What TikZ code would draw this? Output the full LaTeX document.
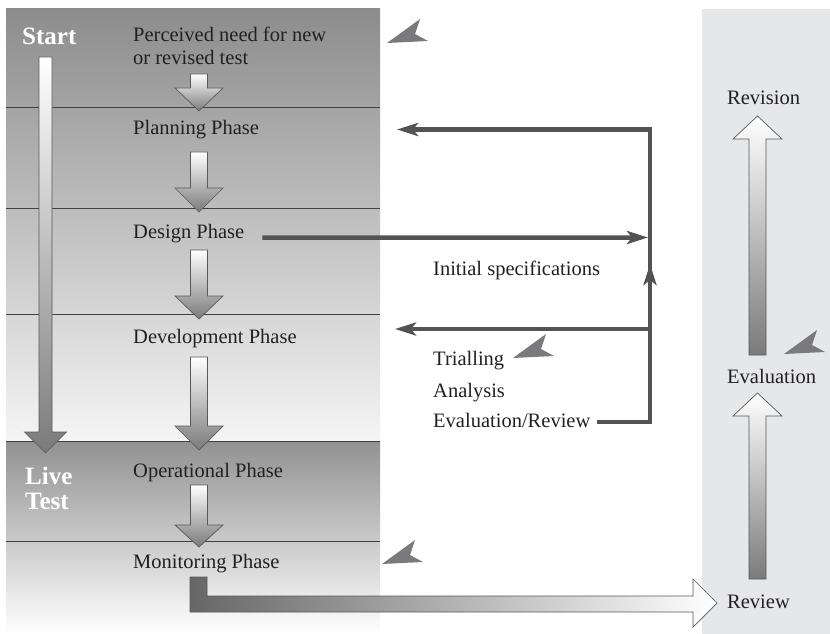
\documentclass[tikz,border=0pt]{standalone}
\usepackage{fontspec}
\setmainfont{Liberation Serif}
\usepackage{tikz}
\usetikzlibrary{arrows.meta}

\definecolor{ink}{HTML}{231F20}
\definecolor{conngray}{HTML}{535355}
\definecolor{edgegray}{HTML}{58595B}
\definecolor{chevgray}{HTML}{7A7A7C}
\definecolor{panelgray}{HTML}{E6E7E8}

% block arrows: centre x, top, head base, tip, half shaft, half head
\newcommand\blockdown[6]{%
\shadedraw[block] (#1-#5,#2) -- (#1+#5,#2) -- (#1+#5,#3) -- (#1+#6,#3)
  -- (#1,#4) -- (#1-#6,#3) -- (#1-#5,#3) -- cycle;}
\newcommand\blockup[6]{%
\shadedraw[block] (#1-#5,#2) -- (#1+#5,#2) -- (#1+#5,#3) -- (#1+#6,#3)
  -- (#1,#4) -- (#1-#6,#3) -- (#1-#5,#3) -- cycle;}
% the little grey flags
\newcommand\chevron[1]{%
\fill[chevgray] #1 -- ++(33,-24) -- ++(-5,15) -- ++(13,7) -- cycle;}

\begin{document}
\begin{tikzpicture}[x=1bp, y=-1bp,
  txt/.style={anchor=base west, inner sep=0pt, text=ink,
    font=\fontsize{20.5bp}{24bp}\selectfont},
  big/.style={anchor=base west, inner sep=0pt, text=white,
    font=\fontsize{25bp}{28bp}\selectfont\bfseries},
  block/.style={draw=edgegray, line width=0.7bp,
    top color=white, bottom color=black!52},
  conn/.style={draw=conngray, line width=4.5bp,
    -{Stealth[length=21bp, width=13bp, inset=5bp]}},
  sep/.style={draw=black!75, line width=0.8bp}]
\useasboundingbox (0,0) rectangle (830,634);
%
% panels
\shade[top color=black!45, bottom color=black!4] (6,9) rectangle (380,441);
\shade[top color=black!43, bottom color=white] (6,441) rectangle (380,634);
\fill[panelgray] (702,9) rectangle (830,634);
\draw[sep] (6,107) -- (380,107);
\draw[sep] (6,208) -- (380,208);
\draw[sep] (6,314) -- (380,314);
\draw[sep] (6,441) -- (380,441);
\draw[sep] (6,541) -- (380,541);
%
% block arrows
\blockdown{45.5}{57}{432}{453}{6.5}{21}
\blockdown{199}{74}{88}{111}{8.5}{24}
\blockdown{199}{152}{188}{212}{8.5}{24}
\blockdown{199}{250}{296}{319}{8.5}{24}
\blockdown{199}{357}{426}{450}{8.5}{24}
\blockdown{199}{485}{525}{547}{8.5}{24}
\blockup{757.5}{355}{139}{116}{8.5}{24.5}
\blockup{757.5}{579}{416}{393}{8.5}{24.5}
\shadedraw[draw=edgegray, line width=0.7bp, left color=black!60, right color=white]
  (190,577) -- (207,577) -- (207,596) -- (693,596) -- (693,579) -- (717,603)
  -- (693,627) -- (693,612) -- (190,612) -- cycle;
%
% texts
\node[big] (start) at (22,45) {Start};
\node[big] (live) at (25,484) {Live};
\node[big] (test) at (25,509) {Test};
\node[txt] (need) at (133,42) {Perceived need for new};
\node[txt] (needb) at (133,65) {or revised test};
\node[txt] (planning) at (133,135) {Planning Phase};
\node[txt] (design) at (133,239) {Design Phase};
\node[txt] (development) at (133,343) {Development Phase};
\node[txt] (operational) at (133,477) {Operational Phase};
\node[txt] (monitoring) at (133,568) {Monitoring Phase};
\node[txt] (initspec) at (433,275) {Initial specifications};
\node[txt] (trialling) at (433,365) {Trialling};
\node[txt] (analysis) at (433,397) {Analysis};
\node[txt] (evalrev) at (433,427) {Evaluation/Review};
\node[txt] (revision) at (727,105) {Revision};
\node[txt] (evaluation) at (727,383) {Evaluation};
\node[txt] (review) at (727,608) {Review};
%
% feedback loop
\coordinate (jplan) at (650,129.5);
\coordinate (jdes) at (648,237.5);
\coordinate (jdev) at (650,329);
\coordinate (jup) at (650,264);
\coordinate (jeval) at (650,422);
\coordinate (planin) at (397,129.5);
\coordinate (devin) at (395,329);
\draw[conn] (evalrev.base east) ++(6,-5) -- (jeval) -- (jplan) -- (planin);
\draw[conn] (jeval) -- (jup);
\draw[conn] (jdev) -- (devin);
\draw[conn] (design.base east) ++(18,-1.5) -- (jdes);
%
\chevron{(387,43)}
\chevron{(784,354)}
\chevron{(513,358)}
\chevron{(382,564)}
\end{tikzpicture}
\end{document}
